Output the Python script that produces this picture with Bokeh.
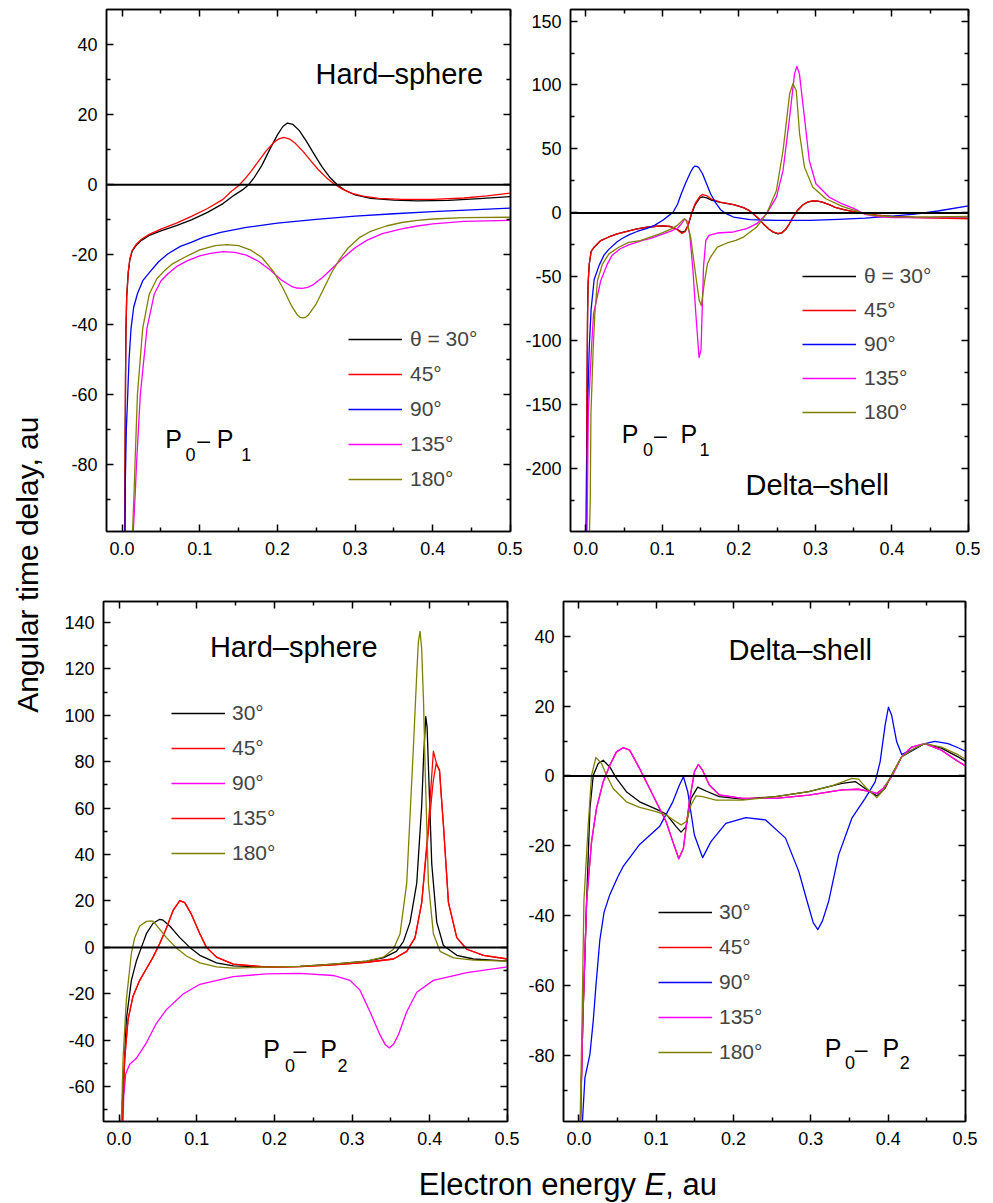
import math
from bokeh.plotting import figure
from bokeh.models import (Range1d, FixedTicker, LinearAxis, Span, Label, Legend,
                          LegendItem, NumeralTickFormatter, CustomJSTickFormatter)
from bokeh.layouts import row, column
from bokeh.embed import file_html
from bokeh.resources import INLINE

FONT = "Liberation Sans"

# ---------------- data ----------------
# Panel 1: P0 - P1, hard sphere
p1_e30 = [0.0035,0.004,0.0045,0.005,0.006,0.008,0.010,0.013,0.018,0.025,0.035,0.05,0.07,0.09,0.11,0.13,0.145,0.155,0.163,0.17,0.18,0.19,0.2,0.207,0.213,0.22,0.228,0.237,0.247,0.257,0.267,0.277,0.287,0.3,0.32,0.35,0.38,0.42,0.46,0.5]
p1_t30 = [-99,-75,-55,-42,-32,-25,-21.5,-19,-17.4,-15.9,-14.5,-13.2,-11.7,-10.0,-7.9,-5.4,-2.9,-1.5,0,2,5.5,10,14.2,16.6,17.6,17.2,15.5,12.5,8.8,5.2,2.2,0,-1.6,-2.9,-3.9,-4.4,-4.6,-4.5,-4,-3.4]
p1_e45 = [0.0035,0.004,0.0045,0.005,0.006,0.008,0.010,0.013,0.018,0.025,0.035,0.05,0.07,0.09,0.11,0.13,0.14,0.15,0.158,0.166,0.175,0.185,0.195,0.202,0.208,0.215,0.223,0.233,0.243,0.253,0.263,0.273,0.283,0.295,0.31,0.33,0.36,0.4,0.44,0.47,0.5]
p1_t45 = [-99,-75,-55,-42,-32,-25,-21.3,-18.8,-17.1,-15.6,-14.2,-12.7,-11,-9.0,-6.8,-4.2,-2.0,-0.3,1.6,3.8,6.5,9.5,12,13.1,13.5,13.1,11.8,9.5,6.8,4.2,2,0.2,-1.2,-2.4,-3.3,-3.9,-4.2,-4.2,-3.8,-3.2,-2.4]
p1_e90 = [0.0038,0.0042,0.0055,0.0073,0.009,0.0116,0.015,0.020,0.027,0.037,0.047,0.0587,0.075,0.089,0.105,0.127,0.16,0.2,0.25,0.3,0.35,0.4,0.45,0.5]
p1_t90 = [-99,-85,-70,-60,-50,-41,-35,-31,-27.3,-24.6,-22,-19.8,-17.6,-16.5,-15,-13.6,-12.2,-11,-9.9,-9,-8.3,-7.7,-7.2,-6.7]
p1_e135 = [0.0145,0.017,0.0188,0.0235,0.0321,0.0415,0.05,0.0587,0.07,0.0844,0.1,0.114,0.13,0.145,0.16,0.175,0.19,0.205,0.218,0.225,0.232,0.239,0.245,0.258,0.272,0.285,0.3,0.315,0.335,0.36,0.38,0.4,0.44,0.5]
p1_t135 = [-99,-88,-79,-60,-41,-31.2,-27.5,-25.5,-23.4,-21.7,-20.3,-19.6,-19.1,-19.3,-20.1,-21.8,-24.2,-27.2,-29,-29.5,-29.6,-29.3,-28.7,-26.5,-23.6,-20.8,-18,-15.9,-14,-12.6,-11.8,-11.2,-10.5,-10.2]
p1_e180 = [0.0135,0.0155,0.0168,0.0198,0.0266,0.0351,0.045,0.0544,0.065,0.08,0.1,0.12,0.135,0.15,0.165,0.18,0.195,0.207,0.218,0.226,0.2295,0.233,0.2365,0.24,0.25,0.26,0.27,0.28,0.29,0.305,0.32,0.34,0.36,0.38,0.4,0.44,0.5]
p1_t180 = [-99,-88,-79,-60,-41,-31.2,-26.8,-24.6,-22.6,-20.8,-18.6,-17.4,-17.1,-17.4,-18.6,-20.8,-24.8,-29.5,-34.5,-37.3,-37.9,-38,-37.8,-37.2,-34,-29.5,-25,-21.3,-18.3,-15.2,-13.3,-11.8,-10.8,-10.2,-9.8,-9.4,-9.3]

# Panel 2: P0 - P1, delta shell
p2_e30 = [0.0005,0.001,0.0018,0.0023,0.003,0.0045,0.007,0.0109,0.0195,0.03,0.041,0.055,0.067,0.08,0.0924,0.101,0.11,0.118,0.1255,0.13,0.134,0.138,0.143,0.149,0.1525,0.158,0.165,0.176,0.193,0.206,0.213,0.219,0.226,0.232,0.239,0.245,0.251,0.256,0.261,0.266,0.27,0.276,0.283,0.29,0.296,0.303,0.309,0.318,0.326,0.337,0.348,0.365,0.38,0.4,0.43,0.46,0.5]
p2_t30 = [-249,-200,-120,-79,-55,-40,-30,-26.8,-21.6,-18.8,-16.4,-14.2,-12.5,-11.2,-10.4,-10.1,-10.6,-12.2,-15.2,-14,-9,-1,6.5,11.7,12.5,11.8,9.8,8.3,6.5,4.2,2,-0.8,-4.5,-8.6,-12.5,-15,-16.3,-15.8,-13,-8.5,-4,1.5,6,8.5,9.3,9.2,8.5,6.5,4.4,2.5,1.2,-0.6,-1.8,-2.8,-3.4,-3.6,-4]
p2_e45 = [0.0005,0.001,0.0018,0.0023,0.003,0.0045,0.007,0.0109,0.0195,0.03,0.041,0.055,0.067,0.08,0.0924,0.101,0.11,0.118,0.1255,0.13,0.134,0.138,0.143,0.149,0.1525,0.158,0.165,0.176,0.193,0.206,0.213,0.219,0.226,0.232,0.239,0.245,0.251,0.256,0.261,0.266,0.27,0.276,0.283,0.29,0.296,0.303,0.309,0.318,0.326,0.337,0.348,0.365,0.38,0.4,0.43,0.46,0.5]
p2_t45 = [-249,-200,-120,-79,-55,-40,-30,-26.8,-21.6,-18.8,-16.4,-14.2,-12.5,-11.2,-10.4,-10.1,-10.6,-12.4,-16,-14.5,-9,-0.5,7.5,13,14.4,13.5,10.5,8.4,6.5,4.2,2,-0.8,-4.5,-8.6,-12.5,-15,-16,-15.5,-12.8,-8.5,-4,1.5,6,8.6,9.5,9.3,8.5,6.5,4.4,2.5,1.2,-0.6,-1.8,-3,-3.7,-4.1,-4.6]
p2_e90 = [0.0008,0.0015,0.0025,0.0045,0.007,0.0109,0.0174,0.0238,0.03,0.041,0.0474,0.057,0.067,0.08,0.0903,0.101,0.1075,0.114,0.12,0.1246,0.131,0.137,0.14,0.1426,0.145,0.1475,0.1525,0.158,0.163,0.169,0.176,0.184,0.193,0.2147,0.249,0.292,0.33,0.365,0.4,0.43,0.46,0.5]
p2_t90 = [-249,-200,-150,-105,-75,-52,-41,-33,-28.5,-22.5,-20,-17,-14.5,-12,-9.5,-5.5,-2.5,0.5,7,14.8,24.1,32,35.2,36.6,36.4,35.5,30.6,22.5,15,8.5,2.5,-0.8,-3.2,-5.3,-5.8,-5.8,-5,-4,-2.5,-1,1.5,5.5]
p2_e135 = [0.0015,0.0025,0.0032,0.0075,0.0101,0.0195,0.0281,0.0345,0.045,0.056,0.0774,0.0838,0.1032,0.112,0.12,0.125,0.129,0.132,0.136,0.14,0.144,0.148,0.1505,0.1538,0.1568,0.161,0.1718,0.193,0.2104,0.2233,0.2362,0.2491,0.2577,0.2663,0.2727,0.2757,0.2791,0.2856,0.292,0.3006,0.3178,0.335,0.35,0.365,0.38,0.4,0.45,0.5]
p2_t135 = [-249,-200,-157,-105,-79,-53,-40,-33,-28,-25,-20.8,-20,-16,-14,-11.8,-8.5,-4.8,-6,-18,-45,-81,-113,-107,-42,-21.5,-17.6,-15.7,-14.9,-12.3,-8.4,-0.6,12.4,33.2,74.9,108.7,114.5,108.7,74.9,41,22.8,12.4,7,3.5,-1.2,-2.8,-3.6,-3.6,-3]
p2_e180 = [0.0048,0.0058,0.0067,0.0097,0.0118,0.0152,0.0217,0.0302,0.0431,0.056,0.071,0.0967,0.112,0.12,0.126,0.1289,0.132,0.137,0.1439,0.1482,0.151,0.1547,0.159,0.163,0.1718,0.1847,0.196,0.206,0.2233,0.2362,0.2491,0.2577,0.2663,0.2706,0.275,0.2793,0.2857,0.2964,0.3136,0.335,0.365,0.38,0.4,0.45,0.5]
p2_t180 = [-249,-225,-157,-105,-79,-53,-40,-32,-26.8,-23,-21.6,-16.4,-12.5,-9.5,-6,-4.5,-7,-18.9,-50.1,-68.3,-72.5,-55.3,-39.7,-34.5,-26.7,-23.5,-21.5,-18.9,-11,-0.6,17.6,48.8,93.1,101,95.7,61.9,35.8,20.2,11.1,5.1,-0.8,-2.2,-3,-3.2,-2.8]

# Panel 3: P0 - P2, hard sphere
p3_e30 = [0.003,0.006,0.0094,0.0159,0.0223,0.0288,0.0352,0.0438,0.0524,0.0567,0.0653,0.0782,0.0911,0.104,0.1254,0.147,0.19,0.2328,0.2758,0.3187,0.34,0.357,0.366,0.3746,0.3832,0.3896,0.392,0.3948,0.3965,0.3982,0.4025,0.4089,0.4175,0.4347,0.4562,0.5]
p3_t30 = [-75,-56,-31,-14.2,-5.9,0,5.9,10.4,12.1,11.7,9.2,4.2,0,-3.4,-6.7,-8,-8.4,-8.2,-7.2,-5.9,-4.5,-1.7,2.5,10.9,27.7,61.2,82,99.4,95,78,36,10.9,0.8,-3.4,-5,-5.9]
p3_e45 = [0.0043,0.0073,0.0116,0.018,0.0266,0.0352,0.0438,0.0524,0.061,0.0696,0.0782,0.0846,0.0932,0.104,0.1125,0.1254,0.147,0.19,0.2328,0.2758,0.3187,0.3531,0.3703,0.381,0.3896,0.3982,0.4033,0.4046,0.408,0.4125,0.4155,0.4175,0.424,0.4347,0.4476,0.469,0.5]
p3_t45 = [-75,-47.8,-31,-21,-14.2,-9.2,-4.2,1.7,8.4,15.9,20.1,19.3,14.2,5.9,0,-4.2,-7.2,-8.5,-8.3,-7.5,-6.4,-5,-1.7,4.2,19.3,52.8,78,84.5,80,76,62,52.8,19.3,4.2,-0.8,-3.4,-5]
p3_e90 = [0.0052,0.006,0.0086,0.0137,0.0223,0.0352,0.0481,0.061,0.0825,0.104,0.147,0.19,0.2328,0.2758,0.2973,0.3101,0.323,0.3359,0.3425,0.3479,0.3535,0.3595,0.3703,0.3832,0.4046,0.4476,0.5]
p3_t90 = [-75,-64.5,-54.5,-50.3,-47.8,-41.1,-32.7,-26.8,-20.1,-15.9,-12.6,-11.4,-11.2,-12.1,-14.2,-18.4,-27.7,-37.7,-41.8,-43.3,-41.6,-37.7,-27.7,-19.3,-14.2,-10.9,-8.4]
p3_e135 = [0.0043,0.0073,0.0116,0.018,0.0266,0.0352,0.0438,0.0524,0.061,0.0696,0.0782,0.0846,0.0932,0.104,0.1125,0.1254,0.147,0.19,0.2328,0.2758,0.3187,0.3531,0.3703,0.381,0.3896,0.3982,0.4033,0.4046,0.408,0.4125,0.4155,0.4175,0.424,0.4347,0.4476,0.469,0.5]
p3_t135 = [-75,-47.8,-31,-21,-14.2,-9.2,-4.2,1.7,8.4,15.9,20.1,19.3,14.2,5.9,0,-4.2,-7.2,-8.5,-8.3,-7.5,-6.4,-5,-1.7,4.2,19.3,50,68,72,79,76.5,62,52.8,19.3,4.2,-0.8,-3.4,-5]
p3_e180 = [0.003,0.0052,0.0094,0.0159,0.0202,0.0266,0.0352,0.043,0.0481,0.061,0.0739,0.0868,0.104,0.1254,0.147,0.19,0.2328,0.2758,0.3187,0.34,0.3531,0.3617,0.3703,0.3789,0.3835,0.3853,0.3875,0.3896,0.392,0.3939,0.3982,0.4046,0.4132,0.4304,0.4562,0.5]
p3_t180 = [-75,-47.8,-22.6,-2.5,4.2,9.2,11.2,11.4,9.6,4.2,-0.3,-3.7,-6.7,-8.4,-8.9,-8.5,-8.2,-7.2,-5.9,-4.2,-0.8,5.9,27.7,86.3,120,131.6,136.1,128.2,105,78,27.7,5.9,-1.7,-4.5,-5.5,-5.9]

# Panel 4: P0 - P2, delta shell (45 deg lies under the 135 deg curve)
p4_e30 = [0.002,0.005,0.0099,0.0142,0.0185,0.0249,0.0313,0.0399,0.0485,0.0613,0.0785,0.0999,0.1128,0.1257,0.1321,0.1386,0.145,0.1536,0.1643,0.1815,0.2115,0.2544,0.2973,0.3402,0.3574,0.3702,0.3852,0.396,0.4045,0.4174,0.4474,0.4689,0.4903,0.5]
p4_t30 = [-99,-70,-35.9,-9.3,0.2,3.6,4.5,2.6,-0.7,-4.5,-7.4,-9.5,-10.9,-14.5,-16.1,-14.5,-6.4,-3.2,-4.3,-5.9,-6.6,-5.9,-4.5,-2.1,-1.6,-3.6,-5.7,-3.5,0.3,5.5,9.3,8,5.5,4.2]
p4_e135 = [0.002,0.005,0.0099,0.0163,0.0227,0.0313,0.0399,0.0485,0.0571,0.0656,0.0785,0.0914,0.1042,0.1128,0.1214,0.1291,0.1351,0.1428,0.1493,0.1544,0.16,0.1686,0.1815,0.2115,0.2544,0.2973,0.3402,0.3617,0.3767,0.3852,0.3938,0.4045,0.4174,0.4303,0.4474,0.4689,0.4903,0.5]
p4_t135 = [-99,-70,-35.9,-18.8,-9.3,-1.7,3.1,6.9,8.1,7.4,2.1,-3.6,-9.3,-13.1,-18.8,-23.7,-20.7,-7.4,1.2,3.3,1.6,-2.6,-5.4,-6.4,-6.4,-5.5,-4,-3.8,-4.5,-5,-3.5,-0.2,5.5,8.3,9.3,7.4,4.2,2.9]
p4_e45 = list(p4_e135)
p4_t45 = list(p4_t135)
p4_e90 = [0.0045,0.0077,0.0142,0.0184,0.022,0.027,0.0325,0.0399,0.05,0.057,0.0785,0.1042,0.1214,0.13,0.1351,0.1407,0.1493,0.16,0.1707,0.19,0.2158,0.2415,0.2672,0.2844,0.2951,0.303,0.309,0.315,0.323,0.3359,0.353,0.3702,0.3831,0.3896,0.396,0.4003,0.4045,0.411,0.4174,0.4303,0.4474,0.4603,0.4775,0.4903,0.5]
p4_t90 = [-99,-86.5,-79.7,-70.3,-60,-47,-39,-34,-29,-26,-19.6,-14.5,-7.4,-2.6,-0.2,-4.5,-16.9,-23.4,-18.8,-13.6,-11.9,-12.6,-17.8,-27.4,-35.9,-42,-44,-41.5,-35.9,-22.6,-12.1,-6.4,-1.7,4.1,14.5,19.7,17.4,9.8,6.2,7.4,9.3,9.9,9.3,8.1,7.1]
p4_e180 = [0.0015,0.004,0.0064,0.012,0.0163,0.0219,0.0292,0.0356,0.0442,0.0613,0.0785,0.0999,0.1128,0.1257,0.1321,0.1386,0.145,0.1514,0.16,0.1772,0.2115,0.2544,0.2973,0.3273,0.353,0.3617,0.3724,0.3852,0.3938,0.4045,0.4174,0.4346,0.4474,0.4689,0.4903,0.5]
p4_t180 = [-99,-70,-35.9,-14,0.2,5.3,3.6,0.2,-3.6,-7.4,-9,-10.2,-11.2,-13.1,-14,-13.1,-8.3,-5.7,-5.9,-6.9,-6.9,-5.9,-4.5,-2.8,-0.7,-0.9,-3.6,-6.2,-4,0.3,5.5,8,9.3,8.3,6.1,4.8]

x_major = [0.0, 0.1, 0.2, 0.3, 0.4, 0.5]
x_minor = [0.05, 0.15, 0.25, 0.35, 0.45]

legend_top = ["\u03b8 = 30\u00b0", "45\u00b0", "90\u00b0", "135\u00b0", "180\u00b0"]
legend_bottom = ["30\u00b0", "45\u00b0", "90\u00b0", "135\u00b0", "180\u00b0"]

BLACK, RED, BLUE, MAGENTA, OLIVE = "#000000", "#ff0000", "#0000ff", "#ff00ff", "#808000"

BASE_SHIFT = 0.35  # renderer places alphabetic baseline this many em too low


def style_axis(ax, show_labels, standoff=9):
    ax.axis_line_width = 1.5
    ax.axis_line_color = "black"
    ax.major_tick_in = 7
    ax.major_tick_out = 0
    ax.minor_tick_in = 4
    ax.minor_tick_out = 0
    ax.major_tick_line_width = 1.5
    ax.minor_tick_line_width = 1.5
    ax.major_tick_line_color = "black"
    ax.minor_tick_line_color = "black"
    if show_labels:
        ax.major_label_text_font = FONT
        ax.major_label_text_font_size = "18px"
        ax.major_label_text_color = "black"
        ax.major_label_standoff = standoff
    else:
        ax.major_label_text_font_size = "0px"
        ax.major_label_standoff = 0


def panel(width, height, yr, borders, yticks, yminor):
    left, right, top, bottom = borders
    p = figure(width=width, height=height, x_range=Range1d(-0.02, 0.5),
               y_range=Range1d(*yr), output_backend="svg", toolbar_location=None,
               min_border_left=left, min_border_right=right,
               min_border_top=top, min_border_bottom=bottom)
    p.xgrid.visible = False
    p.ygrid.visible = False
    p.outline_line_color = "black"
    p.outline_line_width = 1.5
    p.background_fill_color = "white"
    p.border_fill_color = "white"
    xt = FixedTicker(ticks=x_major, minor_ticks=x_minor)
    yt = FixedTicker(ticks=yticks, minor_ticks=yminor)
    bx = p.below[0]
    ly = p.left[0]
    bx.ticker = xt
    bx.formatter = NumeralTickFormatter(format="0.0")
    ly.ticker = yt
    ly.formatter = NumeralTickFormatter(format="0")
    style_axis(bx, True, 10)
    style_axis(ly, True, 9)
    ta = LinearAxis(ticker=xt, formatter=CustomJSTickFormatter(code="return ''"))
    ra = LinearAxis(ticker=yt, formatter=CustomJSTickFormatter(code="return ''"))
    style_axis(ta, False)
    style_axis(ra, False)
    p.add_layout(ta, "above")
    p.add_layout(ra, "right")
    p.add_layout(Span(location=0, dimension="width", line_color="black", line_width=2))
    return p


def text(p, s, x, y, size, italic=False, rotated=False, align="left"):
    if rotated:
        x = x - BASE_SHIFT * size
        angle = math.pi / 2
    else:
        y = y + BASE_SHIFT * size
        angle = 0.0
    p.add_layout(Label(x=x, y=y, x_units="screen", y_units="screen", text=s,
                       text_font=FONT, text_font_size=f"{size}px", text_color="black",
                       text_baseline="alphabetic", text_align=align, angle=angle,
                       text_font_style="italic" if italic else "normal"))


def pp_label(p, xs, yb, ys, sub2):
    xP, x0, xd, xP2, xs2 = xs
    text(p, "P", xP, yb, 25)
    text(p, "0", x0, ys, 18)
    text(p, "\u2013", xd, yb, 23)
    text(p, "P", xP2, yb, 25)
    text(p, sub2, xs2, ys, 18)


def add_legend(p, rends, labels, loc, standoff, spacing):
    items = [LegendItem(label=l, renderers=[r]) for l, r in zip(labels, rends)]
    lg = Legend(items=items, location=loc, padding=0, margin=0, spacing=spacing,
                glyph_width=54, glyph_height=24, label_height=24, label_standoff=standoff,
                label_text_font=FONT, label_text_font_size="21px",
                border_line_color=None, background_fill_alpha=0)
    p.add_layout(lg)


def curves(p, series):
    rs = []
    for xs, ys, c in series:
        rs.append(p.line(xs, ys, line_color=c, line_width=1.3, line_join="round"))
    return rs

# ---------------- panel 1 ----------------
p1 = panel(472, 566, (-99, 50), (56, 12, 9, 35),
           [-80, -60, -40, -20, 0, 20, 40], [-90, -70, -50, -30, -10, 10, 30])
r1 = curves(p1, [(p1_e30, p1_t30, BLACK), (p1_e45, p1_t45, RED), (p1_e90, p1_t90, BLUE),
                 (p1_e135, p1_t135, MAGENTA), (p1_e180, p1_t180, OLIVE)])
add_legend(p1, r1, legend_top, (242, 40), 8, 11)
text(p1, "Hard\u2013sphere", 209, 447.7, 29)
pp_label(p1, (58.7, 79, 90.7, 110.3, 134.7), 83.3, 71, "1")

# ---------------- panel 2 ----------------
p2 = panel(458, 566, (-249, 159), (44, 12, 9, 35),
           [-200, -150, -100, -50, 0, 50, 100, 150], [-225, -175, -125, -75, -25, 25, 75, 125])
r2 = curves(p2, [(p2_e30, p2_t30, BLACK), (p2_e45, p2_t45, RED), (p2_e90, p2_t90, BLUE),
                 (p2_e135, p2_t135, MAGENTA), (p2_e180, p2_t180, OLIVE)])
add_legend(p2, r2, legend_top, (232, 107), 8, 10)
text(p2, "Delta\u2013shell", 175, 36.7, 29)
pp_label(p2, (51.3, 72.5, 83.5, 110, 129), 88.4, 76, "1")

# ---------------- panel 3 ----------------
p3 = panel(469, 590, (-75, 149), (53, 12, 35, 34),
           [-60, -40, -20, 0, 20, 40, 60, 80, 100, 120, 140],
           [-70, -50, -30, -10, 10, 30, 50, 70, 90, 110, 130])
r3 = curves(p3, [(p3_e30, p3_t30, BLACK), (p3_e45, p3_t45, RED), (p3_e90, p3_t90, MAGENTA),
                 (p3_e135, p3_t135, RED), (p3_e180, p3_t180, OLIVE)])
add_legend(p3, r3, legend_bottom, (68, 256), 7, 11)
text(p3, "Hard\u2013sphere", 106.4, 464.5, 29)
pp_label(p3, (159.7, 181.5, 190, 216.7, 234), 63.6, 50, "2")

# ---------------- panel 4 ----------------
p4 = panel(458, 590, (-99, 50), (44, 12, 33, 35),
           [-80, -60, -40, -20, 0, 20, 40], [-90, -70, -50, -30, -10, 10, 30])
r4 = curves(p4, [(p4_e30, p4_t30, BLACK), (p4_e45, p4_t45, RED), (p4_e90, p4_t90, BLUE),
                 (p4_e135, p4_t135, MAGENTA), (p4_e180, p4_t180, OLIVE)])
add_legend(p4, r4, legend_bottom, (95, 57), 7, 11)
text(p4, "Delta\u2013shell", 165, 461.2, 29)
pp_label(p4, (261.3, 281.5, 291.3, 319, 336.3), 64.6, 53, "2")

# ---------------- shared axis titles ----------------
def blank(w, h):
    f = figure(width=w, height=h, x_range=Range1d(0, 1), y_range=Range1d(0, 1),
               x_axis_type=None, y_axis_type=None, output_backend="svg",
               toolbar_location=None, min_border=0)
    f.xgrid.visible = False
    f.ygrid.visible = False
    f.outline_line_color = None
    return f

xlab = blank(930, 47)
text(xlab, "Electron energy ", 368.3, 8, 31)
text(xlab, "E", 594.0, 8, 31, italic=True)
text(xlab, ", au", 614.7, 8, 31)

ylab = blank(50, 1203)
text(ylab, "Angular time delay, au", 37.3, 638.8, 30, rotated=True, align="center")

layout = row(ylab, column(row(p1, p2), row(p3, p4), xlab))

open("out.html", "w").write(file_html(layout, INLINE))
